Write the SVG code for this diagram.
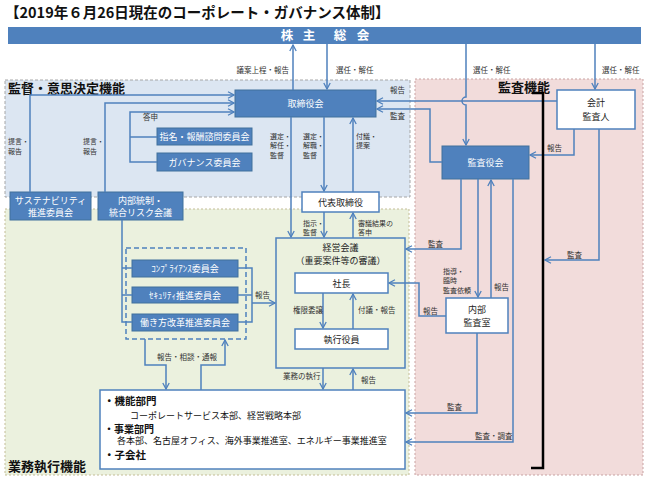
<svg xmlns="http://www.w3.org/2000/svg" width="647" height="485" viewBox="0 0 647 485">
<defs>
<marker id="arr" viewBox="0 0 8 8" refX="7" refY="4" markerWidth="8" markerHeight="8" markerUnits="userSpaceOnUse" orient="auto">
<path d="M1,0.8 L7,4 L1,7.2" fill="none" stroke="#4f81bd" stroke-width="1.3"/>
</marker>
<style>
text{font-family:"Noto Sans CJK JP","Noto Sans",sans-serif;}
.lbl{font-size:7.5px;fill:#333;}
.ml{font-size:7px;}
.reg{font-size:13px;font-weight:bold;fill:#111;}
.bb{fill:#4f81bd;stroke:#41719c;stroke-width:1;}
.wb{fill:#fff;stroke:#4f81bd;stroke-width:1.5;}
.wt{fill:#fff;font-size:9px;text-anchor:middle;}
.bt{fill:#222;font-size:9px;text-anchor:middle;}
.c{fill:none;stroke:#4f81bd;stroke-width:1.5;}
.a{marker-end:url(#arr);}
</style>
</defs>
<rect width="647" height="485" fill="#fff"/>
<!-- regions -->
<g id="region-supervision">
<rect x="5" y="80" width="405" height="117" fill="#dce6f2" stroke="#a6a6a6" stroke-width="1" stroke-dasharray="3,2"/>
<text class="reg" x="8" y="93">監督・意思決定機能</text>
</g>
<g id="region-execution">
<rect x="5" y="209" width="404" height="266" fill="#ebf1de" stroke="#c4bd97" stroke-width="1" stroke-dasharray="2,2"/>
<text class="reg" x="8" y="471">業務執行機能</text>
</g>
<g id="region-audit">
<rect x="415" y="79" width="228" height="396" fill="#f2dcdb" stroke="#c9a3a3" stroke-width="1" stroke-dasharray="2,2"/>
<text class="reg" x="498" y="92">監査機能</text>
</g>
<text x="5" y="18" font-size="14.5" font-weight="bold" fill="#111">【2019年６月26日現在のコーポレート・ガバナンス体制】</text>
<!-- nodes -->
<g id="shareholders">
<rect x="8" y="27" width="633" height="17" fill="#4f81bd"/>
<g fill="#fff" font-size="12.5" font-weight="bold" text-anchor="middle">
<text x="287" y="40">株</text><text x="309" y="40">主</text><text x="340" y="40">総</text><text x="363" y="40">会</text>
</g>
</g>
<g id="board">
<rect class="bb" x="235" y="90" width="141" height="27"/>
<text class="wt" x="305.5" y="107">取締役会</text>
</g>
<g id="nomination">
<rect class="bb" x="157" y="128" width="95" height="17"/>
<text class="wt" x="204.5" y="140">指名・報酬諮問委員会</text>
</g>
<g id="governance">
<rect class="bb" x="157" y="153" width="95" height="18"/>
<text class="wt" x="204.5" y="165.5">ガバナンス委員会</text>
</g>
<g id="sustainability">
<rect class="bb" x="10" y="192" width="81" height="28"/>
<text class="wt" x="50.5" y="204">サステナビリティ</text>
<text class="wt" x="50.5" y="216">推進委員会</text>
</g>
<g id="internal-control">
<rect class="bb" x="98" y="192" width="85" height="28"/>
<text class="wt" x="140.5" y="204">内部統制・</text>
<text class="wt" x="140.5" y="216">統合リスク会議</text>
</g>
<g id="representative">
<rect class="wb" x="302" y="192" width="77" height="20"/>
<text class="bt" x="340.5" y="205.5">代表取締役</text>
</g>
<g id="management-meeting">
<rect x="276" y="238" width="129" height="130" fill="#ebf1de" stroke="#4f81bd" stroke-width="1.5"/>
<text class="bt" x="340.5" y="250.5">経営会議</text>
<text class="bt" x="340.5" y="264">（重要案件等の審議）</text>
</g>
<g id="president">
<rect class="wb" x="295" y="273" width="93" height="20"/>
<text class="bt" x="341.5" y="286.5">社長</text>
</g>
<g id="officers">
<rect class="wb" x="295" y="329" width="93" height="20"/>
<text class="bt" x="341.5" y="342.5">執行役員</text>
</g>
<g id="committees">
<rect x="126" y="248" width="120" height="91" fill="none" stroke="#4f81bd" stroke-width="1.5" stroke-dasharray="5,3"/>
<rect class="bb" x="132" y="260" width="106" height="17"/>
<text class="wt" x="185" y="272" font-size="8.5">ｺﾝﾌﾟﾗｲｱﾝｽ委員会</text>
<rect class="bb" x="132" y="287" width="106" height="16"/>
<text class="wt" x="185" y="298.5" font-size="8.5">ｾｷｭﾘﾃｨ推進委員会</text>
<rect class="bb" x="132" y="314" width="106" height="17"/>
<text class="wt" x="185" y="326" font-size="8.5">働き方改革推進委員会</text>
</g>
<g id="divisions">
<rect class="wb" x="100" y="390" width="305" height="79"/>
<g fill="#111">
<text x="104" y="404.5" font-size="10.5" font-weight="bold">・機能部門</text>
<text x="130" y="418.5" font-size="9">コーポレートサービス本部、経営戦略本部</text>
<text x="104" y="433" font-size="10" font-weight="bold">・事業部門</text>
<text x="117" y="444" font-size="9">各本部、名古屋オフィス、海外事業推進室、エネルギー事業推進室</text>
<text x="104" y="459" font-size="10.5" font-weight="bold">・子会社</text>
</g>
</g>
<g id="audit-board">
<rect class="bb" x="442" y="146" width="87" height="33"/>
<text class="wt" x="485.5" y="166">監査役会</text>
</g>
<g id="accounting-auditor">
<rect class="wb" x="557" y="90" width="78" height="39"/>
<text class="bt" x="596" y="106" font-size="9.5">会計</text>
<text class="bt" x="596" y="120" font-size="9.5">監査人</text>
</g>
<g id="internal-audit">
<rect class="wb" x="446" y="298" width="62" height="35"/>
<text class="bt" x="477" y="312.5" font-size="9.5">内部</text>
<text class="bt" x="477" y="326" font-size="9.5">監査室</text>
</g>
<!-- connectors -->
<g id="connectors">
<path class="c a" d="M293,90 V45"/>
<path class="c a" d="M327,44 V89"/>
<path class="c a" d="M466,44 V97 A4,4 0 0 0 466,105 V145"/>
<path class="c a" d="M595,44 V89"/>
<path class="c a" d="M557,101 H377"/>
<path class="c a" d="M442,162 H430 V109 H377"/>
<path class="c a" d="M574,129 V155 H530"/>
<path class="c a" d="M599,129 V260 H545"/>
<path class="c a" d="M461,179 V249 H406"/>
<path class="c a" d="M478,179 V297"/>
<path class="c a" d="M491,298 V180"/>
<path class="c a" d="M513,179 V442 H406"/>
<path class="c a" d="M446,316 H419 V283 H389"/>
<path class="c a" d="M477,333 V413 H406"/>
<path class="c a" d="M30,192 V95 H234"/>
<path class="c a" d="M105,192 V103 H234"/>
<path class="c a" d="M157,162 H130 V112 H234"/>
<path class="c" d="M130,137 H157"/>
<path class="c a" d="M291,117 V237"/>
<path class="c a" d="M324,117 V191"/>
<path class="c a" d="M353,192 V118"/>
<path class="c a" d="M324,212 V237"/>
<path class="c a" d="M353,238 V213"/>
<path class="c a" d="M323,293 V328"/>
<path class="c a" d="M353,329 V294"/>
<path class="c" d="M122,220 V322 H132 M122,268 H132 M122,295 H132"/>
<path class="c" d="M238,268 H252 V322 H238 M238,295 H252"/>
<path class="c a" d="M252,303 H275"/>
<path class="c a" d="M145,339 V365 H166 V389"/>
<path class="c a" d="M201,390 V365 H225 V340"/>
<path class="c a" d="M323,368 V389"/>
<path class="c a" d="M353,390 V369"/>
<path d="M532,93 H543 V468 H531" fill="none" stroke="#000" stroke-width="2.5"/>
</g>
<!-- labels -->
<g id="labels" class="lbl">
<text x="289" y="73" text-anchor="end">議案上程・報告</text>
<text x="336" y="73">選任・解任</text>
<text x="473" y="73">選任・解任</text>
<text x="602" y="73">選任・解任</text>
<text x="390" y="93">報告</text>
<text x="390" y="119">監査</text>
<text x="143" y="120">答申</text>
<g class="ml">
<text x="8" y="144">提言・</text><text x="8" y="154">報告</text>
<text x="83" y="144">提言・</text><text x="83" y="154">報告</text>
<text x="270" y="138.5">選定・</text><text x="270" y="148">解任・</text><text x="270" y="157.5">監督</text>
<text x="303" y="138.5">選定・</text><text x="303" y="148">解職・</text><text x="303" y="157.5">監督</text>
<text x="356" y="138.5">付議・</text><text x="356" y="148">提案</text>
<text x="303" y="225.5">指示・</text><text x="303" y="235">監督</text>
<text x="358" y="225.5">審議結果の</text><text x="358" y="235">答申</text>
<text x="443" y="273.5">指導・</text><text x="443" y="283">臨時</text><text x="443" y="292.5">監査依頼</text>
</g>
<text x="547" y="151">報告</text>
<text x="428" y="247">監査</text>
<text x="567" y="258">監査</text>
<text x="494" y="290">報告</text>
<text x="423" y="314">報告</text>
<text x="293" y="313">権限委譲</text>
<text x="358" y="313">付議・報告</text>
<text x="255" y="298">報告</text>
<text x="157" y="360">報告・相談・通報</text>
<text x="283" y="379">業務の執行</text>
<text x="361" y="383">報告</text>
<text x="447" y="410">監査</text>
<text x="475" y="439">監査・調査</text>
</g>
</svg>
